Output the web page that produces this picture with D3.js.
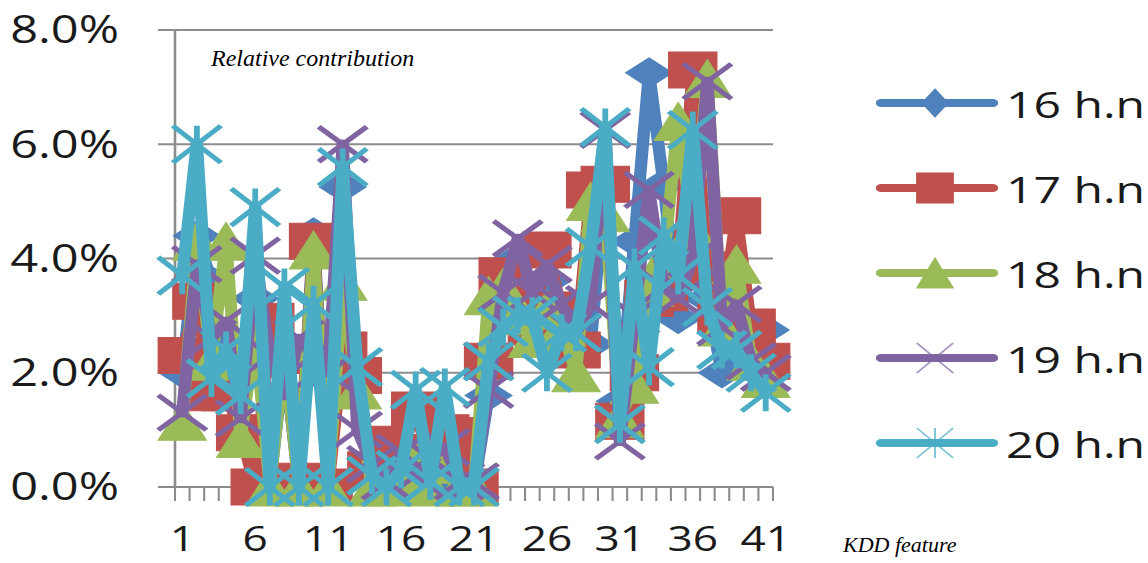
<!DOCTYPE html>
<html>
<head>
<meta charset="utf-8">
<script src="https://cdn.jsdelivr.net/npm/d3@7/dist/d3.min.js"></script>
<style>
  html, body { margin: 0; padding: 0; background: #fff; }
  svg { display: block; }
</style>
</head>
<body>
<svg id="chart" width="1148" height="563"></svg>
<script>
// KDD features 1..41
const categories = d3.range(1, 42).map(String);
const tickLabels = ["1", "6", "11", "16", "21", "26", "31", "36", "41"];
const yTicks = [0, 2, 4, 6, 8];

// Relative contribution (%) per feature, one array per hidden-neuron setting
const hn16 = [2.0,4.4,3.6,2.0,1.9,3.3,0,2.3,0,4.45, 0,5.25,1.8,0.3,0,0.8,0.3,0.5,0.2,0, 0,1.6,3.2,4.0,2.8,3.6,2.7,3.0,2.5,5.4, 1.5,4.3,7.25,5.3,2.95,4.0,3.3,2.0,2.3,2.5,2.75];
const hn17 = [2.3,3.25,1.65,1.65,0.95,0,2.9,2.3,0.1,4.3, 0,2.4,1.95,0.3,0.75,0.6,1.35,0.4,0.95,0.9, 0,2.2,3.7,3.2,2.8,4.15,3.1,2.4,5.2,5.3, 1.15,2.0,3.3,3.4,3.9,7.3,3.8,3.0,4.75,2.8,2.2];
const hn18 = [1.15,4.3,2.2,4.3,0.85,2.7,0,2.4,0,4.15, 0,3.6,1.7,0,0,0.2,0.5,0,0.4,0, 0,3.35,3.5,3.0,2.6,3.1,2.8,2.0,5.0,4.8, 1.2,1.8,3.5,4.0,6.4,4.5,7.15,2.8,3.9,2.2,1.9];
const hn19 = [1.3,3.9,2.6,2.9,1.2,4.05,2.3,1.6,2.6,2.3, 2.0,6.0,1.0,0.4,0.1,0.6,0.2,0.5,0.7,0.1, 0.1,1.7,3.4,4.35,3.4,3.9,3.2,2.7,3.2,6.25, 0.8,3.0,5.2,3.5,3.3,4.0,7.1,2.8,3.2,2.2,2.0];
const hn20 = [3.7,6.0,1.9,2.4,1.6,4.9,0,3.5,0,3.2, 0,5.6,2.1,0.2,0,0.3,1.7,0.1,1.75,0, 0,2.2,2.8,3.0,3.0,2.0,2.7,2.7,4.2,6.3, 1.1,3.85,2.1,4.4,3.7,6.25,3.15,2.4,2.4,2.0,1.65];

const seriesNames = ["16 h.n", "17 h.n", "18 h.n", "19 h.n", "20 h.n"];
const seriesValues = [hn16, hn17, hn18, hn19, hn20];
const seriesColors = ["#4F81BD", "#C0504D", "#9BBB59", "#8064A2", "#4BACC6"];
const seriesMarkers = ["diamond", "square", "triangle", "x", "star"];

const svg = d3.select("#chart");
svg.append("rect").attr("width", 1148).attr("height", 563).attr("fill", "#fff");

// The chart body is drawn in a horizontally stretched frame
const SX = 1.3;
const g = svg.append("g").attr("transform", `scale(${SX},1)`);

const x = d3.scaleBand().domain(categories).range([175 / SX, 773 / SX]).padding(0);
const cx = d => x(d) + x.bandwidth() / 2;
const y = d3.scaleLinear().domain([0, 8]).range([487, 30]);

const axisColor = "#8C8C8C";

// gridlines (with outside tick stubs on the left)
g.append("g").selectAll("line").data(yTicks).join("line")
  .attr("x1", 158 / SX).attr("x2", 773 / SX)
  .attr("y1", d => y(d)).attr("y2", d => y(d))
  .attr("stroke", axisColor).attr("stroke-width", 2);

// vertical axis
g.append("line")
  .attr("x1", 175 / SX).attr("x2", 175 / SX)
  .attr("y1", y(8)).attr("y2", y(0))
  .attr("stroke", axisColor).attr("stroke-width", 2);

// category tick marks between categories
const bounds = d3.range(0, categories.length + 1).map(i => 175 / SX + i * x.bandwidth());
g.append("g").selectAll("line").data(bounds).join("line")
  .attr("x1", d => d).attr("x2", d => d)
  .attr("y1", y(0)).attr("y2", y(0) + 14)
  .attr("stroke", axisColor).attr("stroke-width", 1.6);

// y tick labels
g.append("g").selectAll("text").data(yTicks).join("text")
  .attr("x", 119 / SX).attr("y", d => y(d)).attr("dy", "0.36em")
  .attr("text-anchor", "end")
  .attr("font-family", "'Open Sans', sans-serif").attr("font-size", 37.5)
  .attr("fill", "#1a1a1a")
  .text(d => d.toFixed(1) + "%");

// x tick labels
g.append("g").selectAll("text").data(tickLabels).join("text")
  .attr("x", d => cx(d)).attr("y", 551)
  .attr("text-anchor", "middle")
  .attr("font-family", "'Open Sans', sans-serif").attr("font-size", 34)
  .attr("fill", "#1a1a1a")
  .text(d => d);

// marker shapes (centred on the point)
function markerPath(type, w, h) {
  const hw = w / 2, hh = h / 2;
  switch (type) {
    case "diamond": return `M0,${-hh}L${hw},0L0,${hh}L${-hw},0Z`;
    case "square": return `M${-hw},${-hh}H${hw}V${hh}H${-hw}Z`;
    case "triangle": return `M0,${-hh}L${hw},${hh}L${-hw},${hh}Z`;
    case "x": return `M${-hw},${-hh}L${hw},${hh}M${-hw},${hh}L${hw},${-hh}`;
    case "star": return `M${-hw},${-hh}L${hw},${hh}M${-hw},${hh}L${hw},${-hh}M0,${-hh}L0,${hh}`;
  }
}
const markerSize = {
  diamond: [36, 30], square: [37, 36], triangle: [37, 38], x: [37, 35], star: [37, 37]
};
const filled = t => t === "diamond" || t === "square" || t === "triangle";

const line = d3.line().x((d, i) => cx(categories[i])).y(d => y(d));

seriesValues.forEach((vals, si) => {
  const col = seriesColors[si];
  const mk = seriesMarkers[si];
  const sg = g.append("g");
  sg.append("path").attr("d", line(vals))
    .attr("fill", "none").attr("stroke", col).attr("stroke-width", 9.5)
    .attr("stroke-linejoin", "round").attr("stroke-linecap", "round");
  const [mw, mh] = markerSize[mk];
  sg.selectAll("path.m").data(vals).join("path").attr("class", "m")
    .attr("transform", (d, i) => `translate(${cx(categories[i])},${y(d)})`)
    .attr("d", markerPath(mk, mw, mh))
    .attr("fill", filled(mk) ? col : "none")
    .attr("stroke", col)
    .attr("stroke-width", filled(mk) ? 1 : 4.5);
});

// legend
const legendY = [103, 188, 273, 358, 443];
const lg = g.append("g");
seriesNames.forEach((name, i) => {
  const col = seriesColors[i];
  const mk = seriesMarkers[i];
  const yy = legendY[i];
  lg.append("line")
    .attr("x1", 881 / SX).attr("x2", 993 / SX).attr("y1", yy).attr("y2", yy)
    .attr("stroke", col).attr("stroke-width", 8).attr("stroke-linecap", "round");
  const sizes = { diamond: [20, 28], square: [28, 30], triangle: [28, 30], x: [28, 30], star: [28, 30] };
  const [w, h] = sizes[mk];
  lg.append("path")
    .attr("transform", `translate(${935 / SX},${yy})`)
    .attr("d", markerPath(mk, w, h))
    .attr("fill", filled(mk) ? col : "none")
    .attr("stroke", col)
    .attr("stroke-width", filled(mk) ? 1 : 1.5)
    .attr("stroke-opacity", filled(mk) ? 1 : 0.7);
  lg.append("text")
    .attr("x", 1006 / SX).attr("y", yy + 15)
    .attr("font-family", "'Open Sans', sans-serif").attr("font-size", 37)
    .attr("fill", "#1a1a1a")
    .text(name);
});

// annotations
svg.append("text")
  .attr("x", 211).attr("y", 66)
  .attr("font-family", "'Liberation Serif', 'Times New Roman', serif")
  .attr("font-style", "italic").attr("font-size", 24)
  .attr("fill", "#000")
  .text("Relative contribution");
svg.append("text")
  .attr("x", 843).attr("y", 552)
  .attr("font-family", "'Liberation Serif', 'Times New Roman', serif")
  .attr("font-style", "italic").attr("font-size", 22)
  .attr("fill", "#000")
  .text("KDD feature");
</script>
</body>
</html>
